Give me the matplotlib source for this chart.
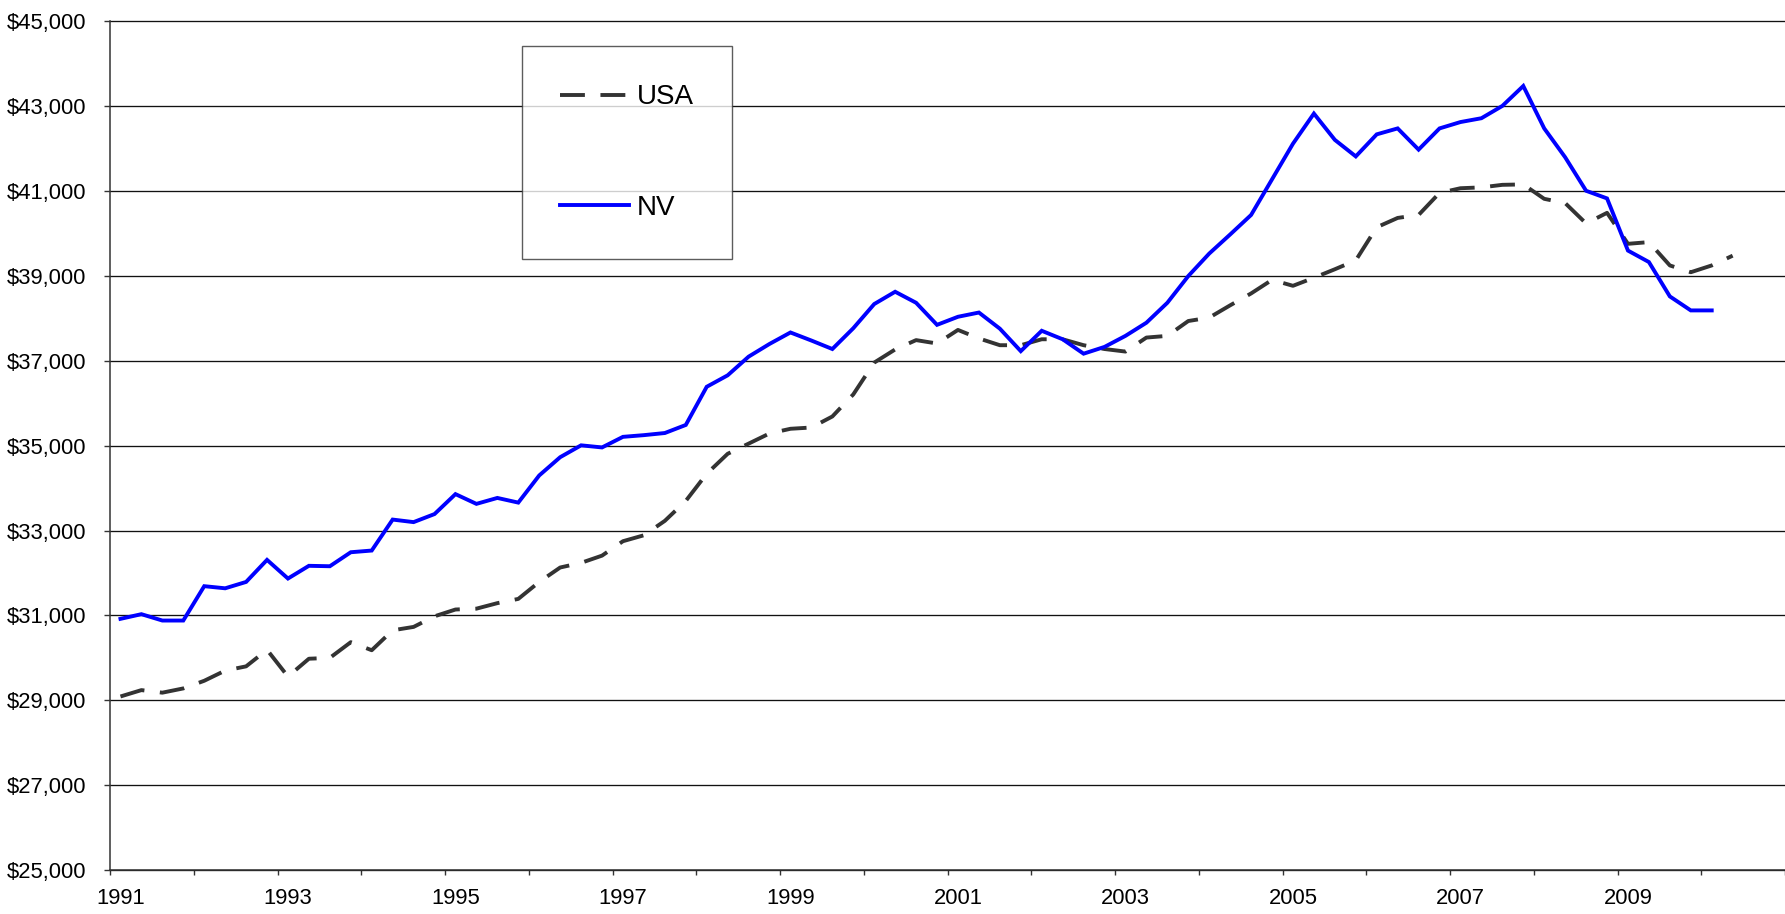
import matplotlib
matplotlib.use("Agg")
import matplotlib.pyplot as plt
from matplotlib.ticker import FuncFormatter

# Quarterly values, 1991 Q1 onward
nv = [30920, 31030, 30880, 30880, 31690, 31640, 31790, 32310, 31870, 32170,
      32160, 32490, 32530, 33260, 33200, 33390, 33860, 33630, 33770, 33660,
      34300, 34730, 35010, 34960, 35210, 35250, 35300, 35490, 36390, 36660,
      37100, 37400, 37670, 37480, 37280, 37770, 38340, 38630, 38370, 37850,
      38040, 38140, 37760, 37230, 37710, 37510, 37170, 37330, 37590, 37900,
      38370, 39000, 39530, 39980, 40440, 41280, 42120, 42830, 42210, 41820,
      42340, 42480, 41980, 42480, 42630, 42720, 43010, 43480, 42480, 41800,
      41010, 40830, 39600, 39330, 38520, 38190, 38190]

usa = [29090, 29240, 29180, 29280, 29460, 29700, 29800, 30190, 29560, 29980,
       30000, 30370, 30180, 30650, 30730, 30980, 31140, 31160, 31290, 31390,
       31790, 32130, 32240, 32410, 32750, 32890, 33230, 33700, 34340, 34810,
       35050, 35290, 35400, 35430, 35690, 36210, 36960, 37270, 37490, 37410,
       37730, 37530, 37370, 37370, 37510, 37510, 37370, 37280, 37220, 37550,
       37590, 37940, 38020, 38310, 38590, 38910, 38770, 38960, 39160, 39370,
       40150, 40370, 40440, 40960, 41070, 41090, 41150, 41160, 40820, 40720,
       40240, 40490, 39760, 39800, 39250, 39090, 39250, 39480]

year_labels = ["1991", "1993", "1995", "1997", "1999", "2001", "2003", "2005", "2007", "2009"]
y_ticks = [25000, 27000, 29000, 31000, 33000, 35000, 37000, 39000, 41000, 43000, 45000]

plt.rcParams['font.family'] = ['Liberation Sans', 'DejaVu Sans']

W, H = 1785, 914
fig = plt.figure(figsize=(W / 100, H / 100), dpi=100)
ax = fig.add_axes([110 / W, 44 / H, 1 - 110 / W, (892.5 - 44) / H])

x_usa = list(range(len(usa)))
x_nv = list(range(len(nv)))

l_usa, = ax.plot(x_usa, usa, color='#333333', lw=2.8, label='USA',
                 solid_capstyle='butt', dash_capstyle='butt')
l_usa.set_dashes([6.4, 4.0])
l_nv, = ax.plot(x_nv, nv, color='#0000ff', lw=2.8, label='NV',
                solid_joinstyle='miter')

ax.set_xlim(-0.5, (W - 120.5) / 21.1)
ax.set_ylim(25000, 45000)

ax.set_yticks(y_ticks)
ax.yaxis.set_major_formatter(FuncFormatter(lambda v, p: "${:,.0f}".format(v)))
ax.yaxis.grid(True, color='#111111', lw=0.95)
for gl in ax.get_ygridlines():
    gl.set_clip_on(False)
ax.set_axisbelow(True)

# Year boundary ticks and category labels
bounds = [b - 0.5 for b in range(0, 81, 4)]
ax.set_xticks(bounds)
ax.set_xticklabels([])
ax.set_xticks([i * 8 for i in range(len(year_labels))], minor=True)
ax.set_xticklabels(year_labels, minor=True)
ax.tick_params(axis='x', which='major', length=3.6, width=1.0, color='#333333', direction='out')
ax.tick_params(axis='x', which='minor', length=0, pad=13, labelsize=15.8)
ax.tick_params(axis='y', which='major', length=4.3, width=1.0, color='#333333',
               pad=13, labelsize=15.8)

for s in ['top', 'right']:
    ax.spines[s].set_visible(False)
for s in ['left', 'bottom']:
    ax.spines[s].set_color('#333333')
    ax.spines[s].set_linewidth(1.1)

leg = ax.legend(handles=[l_usa, l_nv], loc='upper left',
                bbox_to_anchor=(522 / W, 1 - 46 / H), bbox_transform=fig.transFigure,
                borderaxespad=0, fontsize=20, frameon=True, fancybox=False,
                edgecolor='#333333', borderpad=1.38, labelspacing=3.05,
                handlelength=2.47, handletextpad=0.28)
leg.get_frame().set_linewidth(1.0)

fig.savefig('out.png', dpi=100)
